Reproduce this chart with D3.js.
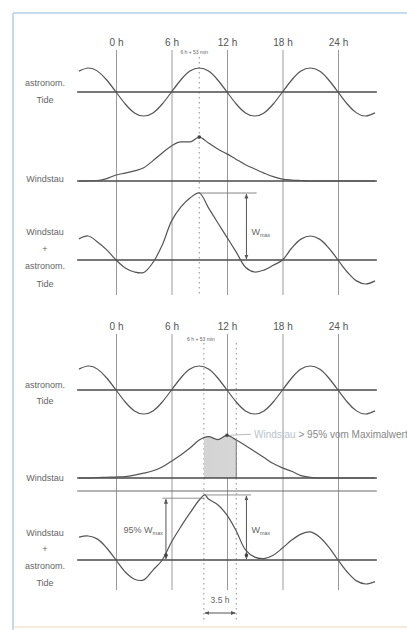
<!DOCTYPE html>
<html>
<head>
<meta charset="utf-8">
<script src="https://cdn.jsdelivr.net/npm/d3@7"></script>
<style>
  body { margin: 0; background: #fff; }
  svg { display: block; }
</style>
</head>
<body>
<svg id="chart" width="407" height="630"></svg>
<script>
// Hourly sample grid (hours after 0 h)
const hours = [-4, -3, -2, -1, 0, 1, 2, 3, 4, 5, 6, 7, 8, 9, 10, 11, 12,
  13, 14, 15, 16, 17, 18, 19, 20, 21, 22, 23, 24, 25, 26, 27, 28];

// Astronomical tide (m), semidiurnal, high water at 9 h and 21 h
const tide = [0.87, 1, 0.87, 0.5, 0, -0.5, -0.87, -1, -0.87, -0.5, 0, 0.5, 0.87,
  1, 0.87, 0.5, 0, -0.5, -0.87, -1, -0.87, -0.5, 0, 0.5, 0.87, 1, 0.87, 0.5,
  0, -0.5, -0.87, -1, -0.87];

// Upper example: wind surge (m), peak coinciding with tidal high water
const surgeA = [0, 0, 0.02, 0.1, 0.25, 0.33, 0.42, 0.55, 0.85, 1.17, 1.46, 1.63,
  1.63, 1.83, 1.58, 1.33, 1.13, 0.9, 0.68, 0.5, 0.33, 0.18, 0.08, 0.04, 0.02,
  0, 0, 0, 0, 0, 0, 0, 0];
// Upper example: observed water level, surge + tide (m)
const levelA = [0.88, 1, 0.75, 0.42, 0, -0.33, -0.5, -0.52, -0.1, 0.62, 1.62, 2.2,
  2.58, 2.79, 2.17, 1.55, 0.94, 0.33, -0.3, -0.5, -0.42, -0.22, 0, 0.5, 0.87,
  1, 0.87, 0.5, 0, -0.5, -0.87, -1, -0.87];

// Lower example: wind surge (m), peak near 12 h
const surgeB = [0, 0, 0.02, 0.03, 0.04, 0.06, 0.12, 0.2, 0.3, 0.46, 0.7, 0.96,
  1.25, 1.58, 1.72, 1.6, 1.78, 1.58, 1.35, 1.1, 0.85, 0.6, 0.42, 0.28, 0.1,
  0.03, 0, 0, 0, 0, 0, 0, 0];
// Lower example: observed water level, surge + tide (m)
const levelHoursB = [-4, -3, -2, -1, 0, 1, 2, 3, 4, 5, 6, 7, 8, 9, 9.6, 10, 11, 12,
  13, 14, 15, 16, 17, 18, 19, 20, 21, 22, 23, 24, 25, 26, 27, 28];
const levelB = [0.95, 1, 0.87, 0.5, 0, -0.5, -0.8, -0.83, -0.42, 0, 0.75, 1.38,
  1.96, 2.5, 2.71, 2.54, 2.3, 1.87, 1.21, 0.42, 0.12, 0.06, 0.2, 0.5, 0.83,
  1.08, 1.17, 0.96, 0.54, 0, -0.5, -0.87, -1, -0.9];

const tickHours = [0, 6, 12, 18, 24];
const tickLabels = ["0 h", "6 h", "12 h", "18 h", "24 h"];
const highWaterHour = 9;
const highWaterNote = "6 h + 53 min";
const surgeWindow = [9.5, 13];
const surgeWindowLabel = "3.5 h";
const surgeWindowNote = ["Windstau", "> 95% vom Maximalwert"];
const shareOfMax = 0.95;

const FONT = "'Liberation Sans', Arial, sans-serif";
const svg = d3.select("#chart");

// page frame
svg.append("line").attr("x1", 13).attr("x2", 407).attr("y1", 13).attr("y2", 13)
  .attr("stroke", "#c4dbee").attr("stroke-width", 2);
svg.append("line").attr("x1", 13).attr("x2", 13).attr("y1", 13).attr("y2", 630)
  .attr("stroke", "#c4dbee").attr("stroke-width", 2);
svg.append("line").attr("x1", 14).attr("x2", 407).attr("y1", 627).attr("y2", 627)
  .attr("stroke", "#f6ecdc").attr("stroke-width", 2);

const defs = svg.append("defs");
defs.append("marker").attr("id", "arrow")
  .attr("viewBox", "0 0 10 10").attr("refX", 9).attr("refY", 5)
  .attr("markerWidth", 5).attr("markerHeight", 5)
  .attr("orient", "auto-start-reverse")
  .append("path").attr("d", "M0,1 L10,5 L0,9 Z").attr("fill", "#555");
const grad = defs.append("linearGradient").attr("id", "shade")
  .attr("x1", 0).attr("x2", 1).attr("y1", 0).attr("y2", 0);
grad.append("stop").attr("offset", "0%").attr("stop-color", "#c9c9c9");
grad.append("stop").attr("offset", "100%").attr("stop-color", "#e2e2e2");

const x = d3.scaleLinear().domain([0, 24]).range([116, 338]);
const xStart = -4.2, xEnd = 28.2;
const unit = 24; // px per metre
const yAt = base => d3.scaleLinear().domain([0, 1]).range([base, base - unit]);

const lineOn = (xs, y, c) => d3.line().x((d, i) => x(xs[i])).y(d => y(d)).curve(c);
const smoothCurve = d3.curveCatmullRom.alpha(0.5);

function baseline(g, y) {
  g.append("line").attr("x1", x(xStart)).attr("x2", x(xEnd))
    .attr("y1", y(0)).attr("y2", y(0))
    .attr("stroke", "#4a4a4a").attr("stroke-width", 1.6);
}
function curve(g, gen, data) {
  g.append("path").datum(data).attr("d", gen).attr("fill", "none")
    .attr("stroke", "#555").attr("stroke-width", 1.2);
}
function label(g, lines, ys) {
  lines.forEach((t, i) => g.append("text").attr("x", 45).attr("y", ys[i] + 3)
    .attr("text-anchor", "middle").attr("font-family", FONT).attr("font-size", 9)
    .attr("fill", "#666").text(t));
}
function dotted(g, h, y1, y2) {
  g.append("line").attr("x1", x(h)).attr("x2", x(h)).attr("y1", y1).attr("y2", y2)
    .attr("stroke", "#8f8f8f").attr("stroke-width", 1).attr("stroke-dasharray", "1.5,3.5");
}
function dot(g, cx, cy) {
  g.append("circle").attr("cx", cx).attr("cy", cy).attr("r", 1.8).attr("fill", "#444");
}
function arrow(g, xx, yTop, yBottom) {
  g.append("line").attr("x1", xx).attr("x2", xx).attr("y1", yTop + 1).attr("y2", yBottom - 1)
    .attr("stroke", "#555").attr("stroke-width", 1)
    .attr("marker-start", "url(#arrow)").attr("marker-end", "url(#arrow)");
}
function wLabel(g, xx, yy, prefix, anchor) {
  const t = g.append("text").attr("x", xx).attr("y", yy).attr("font-family", FONT)
    .attr("font-size", 9).attr("fill", "#666").attr("text-anchor", anchor || "start");
  t.append("tspan").text(prefix + "W");
  t.append("tspan").attr("font-size", 5.5).attr("dy", 2).text("max");
}
function hourAxis(g, axisY, bottom) {
  const axis = d3.axisTop(x).tickValues(tickHours)
    .tickFormat((d, i) => tickLabels[i])
    .tickSize(-(bottom - axisY)).tickPadding(4);
  const ag = g.append("g").attr("transform", `translate(0,${axisY})`).call(axis)
    .attr("font-family", FONT).attr("font-size", 10);
  ag.select(".domain").remove();
  ag.selectAll(".tick line").attr("stroke", "#9a9a9a").attr("stroke-width", 1);
  ag.selectAll(".tick text").attr("fill", "#555");
}

// ---------- upper figure: surge maximum at tidal high water ----------
{
  const g = svg.append("g");
  hourAxis(g, 50, 295);
  dotted(g, highWaterHour, 57, 295);
  g.append("text").attr("x", x(highWaterHour) - 5).attr("y", 54).attr("text-anchor", "middle")
    .attr("font-family", FONT).attr("font-size", 5).attr("fill", "#666").text(highWaterNote);

  const yT = yAt(92), yS = yAt(181), yC = yAt(260);

  baseline(g, yT); curve(g, lineOn(hours, yT, d3.curveNatural), tide);
  baseline(g, yS); curve(g, lineOn(hours, yS, d3.curveMonotoneX), surgeA);
  baseline(g, yC); curve(g, lineOn(hours, yC, smoothCurve), levelA);

  const iS = d3.maxIndex(surgeA);
  dot(g, x(hours[iS]), yS(surgeA[iS]));

  const iC = d3.maxIndex(levelA), wMax = levelA[iC];
  g.append("line").attr("x1", x(hours[iC])).attr("x2", x(15.2))
    .attr("y1", yC(wMax)).attr("y2", yC(wMax)).attr("stroke", "#666").attr("stroke-width", 0.8);
  arrow(g, x(14.1), yC(wMax), yC(0));
  wLabel(g, x(14.1) + 5, 235, "");

  label(g, ["astronom.", "Tide"], [83, 100]);
  label(g, ["Windstau"], [179]);
  label(g, ["Windstau", "+", "astronom.", "Tide"], [232, 249, 266, 284]);
}

// ---------- lower figure: surge maximum after tidal high water ----------
{
  const g = svg.append("g");
  hourAxis(g, 334, 590);
  surgeWindow.forEach(h => dotted(g, h, 343, 620));
  g.append("text").attr("x", x(surgeWindow[0]) - 3).attr("y", 341).attr("text-anchor", "middle")
    .attr("font-family", FONT).attr("font-size", 5).attr("fill", "#666").text(highWaterNote);

  const yT = yAt(390), yS = yAt(478), yC = yAt(560);

  // shaded part of the surge above 95 % of its maximum
  g.append("clipPath").attr("id", "win").append("rect")
    .attr("x", x(surgeWindow[0])).attr("y", 400)
    .attr("width", x(surgeWindow[1]) - x(surgeWindow[0])).attr("height", 80);
  g.append("path").datum(surgeB)
    .attr("d", d3.area().x((d, i) => x(hours[i])).y0(yS(0)).y1(d => yS(d)).curve(d3.curveMonotoneX))
    .attr("fill", "url(#shade)").attr("clip-path", "url(#win)");
  g.append("line").attr("x1", x(surgeWindow[1])).attr("x2", x(surgeWindow[1]))
    .attr("y1", 441).attr("y2", yS(0)).attr("stroke", "#777").attr("stroke-width", 1);

  baseline(g, yT); curve(g, lineOn(hours, yT, d3.curveNatural), tide);
  baseline(g, yS); curve(g, lineOn(hours, yS, d3.curveMonotoneX), surgeB);
  g.append("line").attr("x1", x(xStart)).attr("x2", x(xEnd)).attr("y1", 491).attr("y2", 491)
    .attr("stroke", "#6a6a6a").attr("stroke-width", 1.2);
  baseline(g, yC); curve(g, lineOn(levelHoursB, yC, smoothCurve), levelB);

  const iS = d3.maxIndex(surgeB);
  dot(g, x(hours[iS]), yS(surgeB[iS]));
  g.append("line").attr("x1", x(hours[iS]) + 3).attr("x2", 251)
    .attr("y1", yS(surgeB[iS])).attr("y2", yS(surgeB[iS]) - 1)
    .attr("stroke", "#aaa").attr("stroke-width", 0.8);
  const note = g.append("text").attr("x", 254).attr("y", 438)
    .attr("font-family", FONT).attr("font-size", 10);
  note.append("tspan").attr("fill", "#b9c3cc").text(surgeWindowNote[0] + " ");
  note.append("tspan").attr("fill", "#888").text(surgeWindowNote[1]);

  const iC = d3.maxIndex(levelB), wMax = levelB[iC];
  const w95 = shareOfMax * wMax;
  g.append("line").attr("x1", x(5.0)).attr("x2", x(levelHoursB[iC]))
    .attr("y1", yC(w95)).attr("y2", yC(w95)).attr("stroke", "#777").attr("stroke-width", 0.8);
  g.append("line").attr("x1", x(levelHoursB[iC])).attr("x2", x(14.6))
    .attr("y1", yC(wMax)).attr("y2", yC(wMax)).attr("stroke", "#777").attr("stroke-width", 0.8);
  arrow(g, x(5.4), yC(w95), yC(0));
  arrow(g, x(14.1), yC(wMax), yC(0));
  dot(g, x(5.4), yC(0) - 5);
  dot(g, x(14.1), yC(0) - 5);
  wLabel(g, x(5.4) - 3, 533, Math.round(shareOfMax * 100) + "% ", "end");
  wLabel(g, x(14.1) + 5, 533, "");

  // duration of the high surge
  g.append("text").attr("x", (x(surgeWindow[0]) + x(surgeWindow[1])) / 2).attr("y", 603)
    .attr("text-anchor", "middle").attr("font-family", FONT).attr("font-size", 8.5)
    .attr("fill", "#666").text(surgeWindowLabel);
  g.append("line").attr("x1", x(surgeWindow[0]) + 1).attr("x2", x(surgeWindow[1]) - 1)
    .attr("y1", 613).attr("y2", 613).attr("stroke", "#555").attr("stroke-width", 1)
    .attr("marker-start", "url(#arrow)").attr("marker-end", "url(#arrow)");

  label(g, ["astronom.", "Tide"], [385, 401]);
  label(g, ["Windstau"], [478]);
  label(g, ["Windstau", "+", "astronom.", "Tide"], [533, 549, 566, 583]);
}
</script>
</body>
</html>
